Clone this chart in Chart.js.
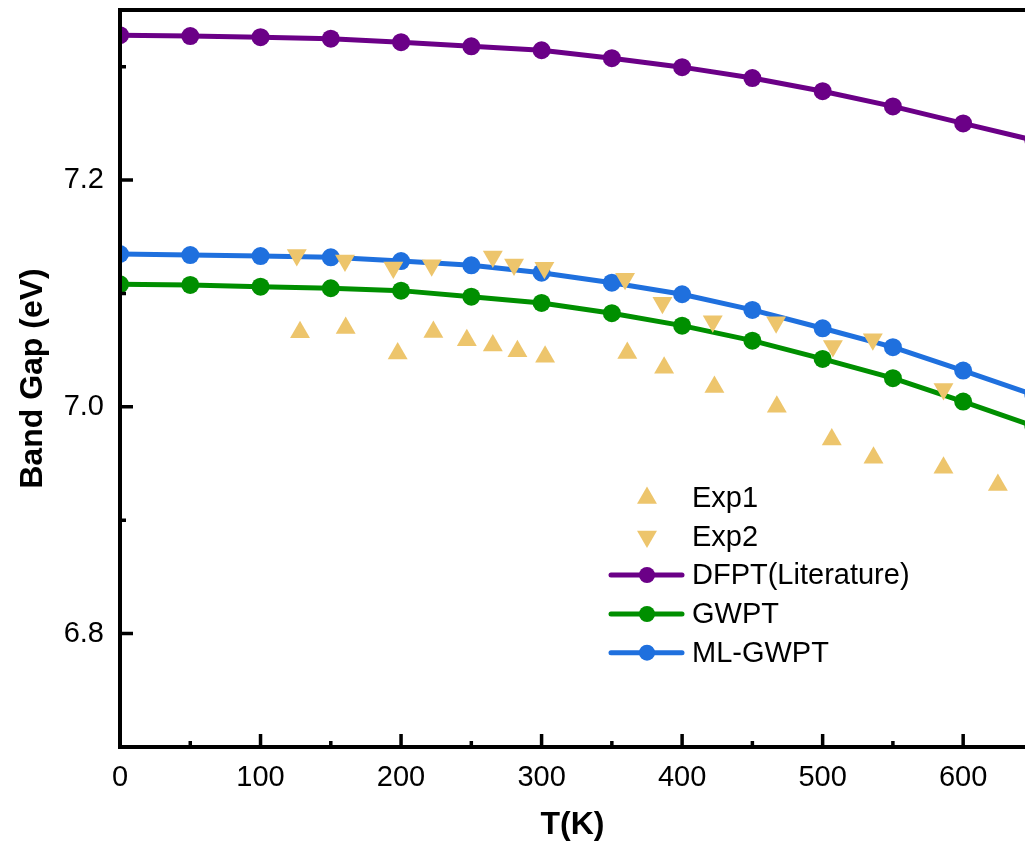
<!DOCTYPE html>
<html><head><meta charset="utf-8">
<script src="https://cdn.jsdelivr.net/npm/chart.js@4.4.0/dist/chart.umd.min.js"></script>
<style>html,body{margin:0;padding:0;background:#fff;overflow:hidden}canvas{display:block}</style>
</head><body>
<canvas id="c" width="1025" height="844"></canvas>
<script>
// ---- data ----
const T_CALC = [0, 50, 100, 150, 200, 250, 300, 350, 400, 450, 500, 550, 600, 650];
const DFPT   = [7.3278, 7.3270, 7.3260, 7.3247, 7.3216, 7.3180, 7.3145, 7.3075, 7.2996, 7.2900, 7.2784, 7.2650, 7.2500, 7.2352];
const GWPT   = [7.1081, 7.1075, 7.1060, 7.1046, 7.1025, 7.0972, 7.0916, 7.0826, 7.0716, 7.0584, 7.0423, 7.0253, 7.0047, 6.9830];
const MLGWPT = [7.1348, 7.1339, 7.1330, 7.1319, 7.1286, 7.1248, 7.1183, 7.1095, 7.0993, 7.0855, 7.0693, 7.0526, 7.0320, 7.0106];
const EXP1_T = [128.1, 160.6, 197.6, 223.0, 246.8, 265.3, 282.8, 302.5, 361.0, 387.2, 423.0, 467.4, 506.5, 536.2, 586.0, 624.7];
const EXP1_E = [7.0659, 7.0696, 7.0470, 7.0661, 7.0588, 7.0540, 7.0491, 7.0441, 7.0476, 7.0344, 7.0176, 7.0000, 6.9712, 6.9551, 6.9463, 6.9310];
const EXP2_T = [125.8, 160.1, 194.5, 221.8, 265.3, 280.4, 302.0, 359.4, 386.0, 421.8, 466.9, 507.3, 535.7, 586.0];
const EXP2_E = [7.1339, 7.1290, 7.1229, 7.1248, 7.1327, 7.1256, 7.1226, 7.1130, 7.0918, 7.0756, 7.0747, 7.0537, 7.0596, 7.0158];
const X_TICKS = [0, 100, 200, 300, 400, 500, 600];
const X_MINOR = [50, 150, 250, 350, 450, 550];
const Y_TICKS = [6.8, 7.0, 7.2];
const Y_MINOR = [6.7, 6.9, 7.1, 7.3];
const X_TITLE = 'T(K)';
const Y_TITLE = 'Band Gap (eV)';
const LABELS = ['Exp1', 'Exp2', 'DFPT(Literature)', 'GWPT', 'ML-GWPT'];

// ---- styles ----
const FONT = 'Arial, "Liberation Sans", sans-serif';
const GOLD = '#EDC56C', PURPLE = '#6B0087', GREEN = '#008F00', BLUE = '#1F70DE';
const pts = (xs, ys) => xs.map((x, i) => ({x: x, y: ys[i]}));

const scatterDs = (label, xs, ys, rot) => ({
  label, data: pts(xs, ys), showLine: false,
  pointStyle: 'triangle', rotation: rot, pointRadius: 11.5, pointHoverRadius: 11.5,
  backgroundColor: GOLD, borderColor: GOLD, borderWidth: 0
});
const lineDs = (label, ys, c) => ({
  label, data: pts(T_CALC, ys), showLine: true, tension: 0,
  borderColor: c, backgroundColor: c, borderWidth: 5,
  pointStyle: 'circle', pointRadius: 9, pointHoverRadius: 9, pointBorderWidth: 0
});
const noPad = s => { s.paddingTop = 0; s.paddingBottom = 0; s.paddingLeft = 0; s.paddingRight = 0; };

const axesPlugin = {
  id: 'axesPlugin',
  afterDatasetsDraw(chart) {
    const {ctx, chartArea: a, scales: {x, y}} = chart;
    ctx.save();
    ctx.strokeStyle = '#000';
    ctx.lineWidth = 4;
    ctx.lineCap = 'butt';
    ctx.beginPath();
    ctx.moveTo(a.left, a.top); ctx.lineTo(a.right + 2, a.top);
    ctx.moveTo(a.left, a.top - 2); ctx.lineTo(a.left, a.bottom + 2);
    ctx.moveTo(a.left - 2, a.bottom); ctx.lineTo(a.right + 2, a.bottom);
    ctx.stroke();
    ctx.lineWidth = 3.5;
    ctx.beginPath();
    X_TICKS.forEach(v => { const px = x.getPixelForValue(v); ctx.moveTo(px, a.bottom); ctx.lineTo(px, a.bottom - 13); });
    X_MINOR.forEach(v => { const px = x.getPixelForValue(v); ctx.moveTo(px, a.bottom); ctx.lineTo(px, a.bottom - 6); });
    Y_TICKS.forEach(v => { const py = y.getPixelForValue(v); ctx.moveTo(a.left, py); ctx.lineTo(a.left + 13, py); });
    Y_MINOR.forEach(v => { const py = y.getPixelForValue(v); ctx.moveTo(a.left, py); ctx.lineTo(a.left + 6, py); });
    ctx.stroke();
    ctx.restore();
  }
};

const legendPlugin = {
  id: 'legendPlugin',
  afterDraw(chart) {
    const ctx = chart.ctx;
    const rows = [498, 536.5, 575, 614, 652.7];
    const mx = 647, textX = 692;
    ctx.save();
    chart.data.datasets.forEach((ds, i) => {
      const yy = rows[i];
      ctx.fillStyle = ds.backgroundColor;
      ctx.strokeStyle = ds.borderColor;
      if (ds.showLine) {
        ctx.lineWidth = ds.borderWidth;
        ctx.lineCap = 'round';
        ctx.beginPath(); ctx.moveTo(611, yy); ctx.lineTo(682, yy); ctx.stroke();
        ctx.beginPath(); ctx.arc(mx, yy, 8, 0, Math.PI * 2); ctx.fill();
      } else {
        const r = ds.pointRadius;
        const s = ds.rotation === 180 ? -1 : 1;
        const w = r * Math.sin(Math.PI / 3);
        ctx.beginPath();
        ctx.moveTo(mx, yy - s * r);
        ctx.lineTo(mx + w, yy + s * r / 2);
        ctx.lineTo(mx - w, yy + s * r / 2);
        ctx.closePath(); ctx.fill();
      }
      ctx.fillStyle = '#000';
      ctx.font = '29px ' + FONT;
      ctx.textBaseline = 'middle';
      ctx.textAlign = 'left';
      ctx.fillText(ds.label, textX, yy + 1);
    });
    ctx.restore();
  }
};

new Chart(document.getElementById('c'), {
  type: 'scatter',
  data: {
    datasets: [
      scatterDs(LABELS[0], EXP1_T, EXP1_E, 0),
      scatterDs(LABELS[1], EXP2_T, EXP2_E, 180),
      lineDs(LABELS[2], DFPT, PURPLE),
      lineDs(LABELS[3], GWPT, GREEN),
      lineDs(LABELS[4], MLGWPT, BLUE)
    ]
  },
  options: {
    responsive: false, animation: false, devicePixelRatio: 1,
    layout: {autoPadding: false, padding: {left: 0, top: 10, right: 0, bottom: 0}},
    plugins: {legend: {display: false}, tooltip: {enabled: false}},
    scales: {
      x: {
        type: 'linear', min: 0, max: 644,
        afterFit: s => { s.height = 97; noPad(s); },
        afterBuildTicks: s => { s.ticks = X_TICKS.map(v => ({value: v})); },
        grid: {display: false, drawTicks: false},
        border: {display: false},
        ticks: {color: '#000', font: {family: FONT, size: 29}, padding: 14, maxRotation: 0, autoSkip: false,
                callback: v => String(v)},
        title: {display: true, text: X_TITLE, color: '#000', font: {family: FONT, size: 32, weight: 'bold'},
                padding: {top: 0, bottom: 0}}
      },
      y: {
        type: 'linear', min: 6.7, max: 7.35,
        afterFit: s => { s.width = 120; noPad(s); },
        afterBuildTicks: s => { s.ticks = Y_TICKS.map(v => ({value: v})); },
        grid: {display: false, drawTicks: false},
        border: {display: false},
        ticks: {color: '#000', font: {family: FONT, size: 29}, padding: 16, autoSkip: false,
                callback: v => v.toFixed(1)},
        title: {display: true, text: Y_TITLE, color: '#000', font: {family: FONT, size: 32, weight: 'bold'},
                padding: {top: 14, bottom: 0}}
      }
    }
  },
  plugins: [axesPlugin, legendPlugin]
});
</script>
</body></html>
